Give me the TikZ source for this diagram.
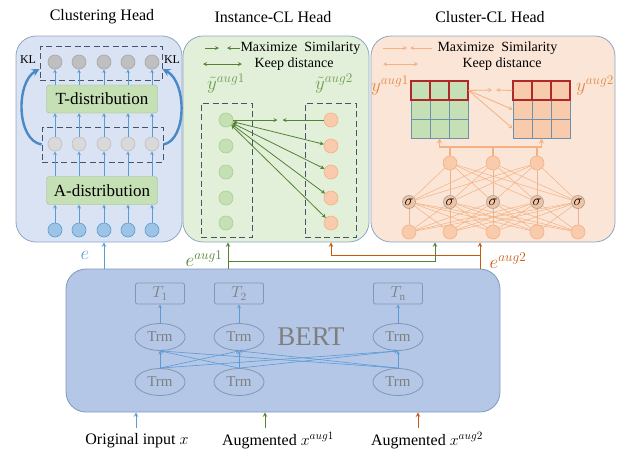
\documentclass[tikz,border=0pt]{standalone}
\usepackage{fix-cm}
\usepackage{fontspec}
\setmainfont{Liberation Serif}
\usetikzlibrary{shapes.geometric}
\definecolor{bluefill}{HTML}{DAE3F3}
\definecolor{greenfill}{HTML}{E2F0D9}
\definecolor{orangefill}{HTML}{FBE5D6}
\definecolor{bertfill}{HTML}{B4C7E7}
\definecolor{panelline}{HTML}{8EA6C6}
\definecolor{bertline}{HTML}{7F98BE}
\definecolor{dashline}{HTML}{44546A}
\definecolor{arrblue}{HTML}{5B9BD5}
\definecolor{klblue}{HTML}{4A89C8}
\definecolor{arrgreen}{HTML}{548235}
\definecolor{ygreen}{HTML}{6E9D53}
\definecolor{arrorange}{HTML}{C55A11}
\definecolor{lightorange}{HTML}{F4B183}
\definecolor{ylab}{HTML}{E08A45}
\definecolor{cellgreen}{HTML}{C5E0B4}
\definecolor{cellorange}{HTML}{F8CBAD}
\definecolor{cellred}{HTML}{B02828}
\definecolor{gridline}{HTML}{6F8FAF}
\definecolor{qfill}{HTML}{BFBFBF}
\definecolor{qline}{HTML}{A5A5A5}
\definecolor{mfill}{HTML}{D9D9D9}
\definecolor{mline}{HTML}{BFBFBF}
\definecolor{bfill}{HTML}{9DC3E6}
\definecolor{distline}{HTML}{9DB88E}
\definecolor{gline}{HTML}{A9D18E}
\definecolor{sigfill}{HTML}{F2C3A3}
\definecolor{sigline}{HTML}{A0A0A0}
\definecolor{trmline}{HTML}{8497B0}
\definecolor{trmgray}{HTML}{7F7F7F}
\begin{document}
\begin{tikzpicture}[x=1pt, y=-1pt, >=stealth,
		title/.style={font=\fontsize{16}{18}\selectfont},
		lgd/.style={font=\fontsize{14}{16}\selectfont},
		lbl/.style={font=\fontsize{16}{18}\selectfont},
		mlbl/.style={font=\fontsize{19}{19}\selectfont},
		panel/.style={draw=panelline, line width=0.8pt, rounded corners=20pt},
		dbox/.style={draw=dashline, line width=0.9pt, dash pattern=on 6pt off 3.5pt},
		dist/.style={draw=distline, fill=cellgreen, rounded corners=3pt, minimum width=111pt, minimum height=28pt, font=\fontsize{17}{19}\selectfont},
		dot/.style={circle, draw, line width=0.6pt, minimum size=14pt, inner sep=0pt},
		sig/.style={circle, draw=sigline, fill=sigfill, line width=0.6pt, minimum size=13pt, inner sep=0pt, font=\fontsize{15}{15}\selectfont},
		trm/.style={ellipse, draw=trmline, line width=0.8pt, minimum width=50pt, minimum height=27pt, inner sep=0pt, text=trmgray, font=\fontsize{15}{15}\selectfont},
		tok/.style={draw=trmline, line width=0.8pt, rounded corners=2pt, minimum width=49pt, minimum height=21pt, inner sep=0pt, text=trmgray, font=\fontsize{16}{16}\selectfont},
		cell/.style={draw=gridline, line width=0.7pt, minimum size=19pt, inner sep=0pt},
		topcell/.style={cell, draw=cellred, line width=1.3pt},
		barr/.style={->, arrblue, line width=0.7pt},
		garr/.style={arrgreen, line width=0.8pt},
		oarr/.style={lightorange, line width=0.8pt},
		net/.style={lightorange, line width=0.5pt},
		joinline/.style={lightorange, line width=1.3pt},
		klarr/.style={->, klblue, line width=2.4pt}]
	\useasboundingbox (0,0) rectangle (618,453);
	% three heads and the encoder
	\node[panel, fill=bluefill, minimum width=166pt, minimum height=206pt] (pclu) at (99,139) {};
	\node[panel, fill=greenfill, minimum width=186pt, minimum height=206pt] (pins) at (276,139) {};
	\node[panel, fill=orangefill, minimum width=244pt, minimum height=206pt] (pclc) at (493,139) {};
	\node[panel, draw=bertline, fill=bertfill, minimum width=434pt, minimum height=143pt] (bert) at (283,340.5) {};
	\node[title] (tclu) at (102,17) {Clustering Head};
	\node[title] (tins) at (273,17) {Instance-CL Head};
	\node[title] (tclc) at (490,17) {Cluster-CL Head};

	% clustering head
	\node[dbox, minimum width=122pt, minimum height=34pt] (qbox) at (101,63) {};
	\node[dbox, minimum width=121pt, minimum height=35pt] (mbox) at (102.5,144.5) {};
	\node[dist] (tdist) at (102,99) {T-distribution};
	\node[dist] (adist) at (102,190.5) {A-distribution};
	\foreach \x [count=\i] in {55,79,104,128,152} {
		\node[dot, draw=qline, fill=qfill] (q\i) at (\x,62) {};
		\node[dot, draw=mline, fill=mfill] (m\i) at (\x,144) {};
		\node[dot, draw=arrblue, fill=bfill] (b\i) at (\x,230) {};
		\draw[barr] (b\i) -- (b\i |- adist.south);
		\draw[barr] (m\i |- adist.north) -- (m\i);
		\draw[barr] (m\i) -- (m\i |- tdist.south);
		\draw[barr] (q\i |- tdist.north) -- (q\i);
	}
	\node[font=\fontsize{12}{12}\selectfont] (kl1) at (28,60) {KL};
	\node[font=\fontsize{12}{12}\selectfont] (kl2) at (172,60) {KL};
	\draw[klarr] (mbox.west) .. controls (16,140) and (16,82) .. ([yshift=-6pt]qbox.west);
	\draw[klarr] (mbox.east) .. controls (187,140) and (187,82) .. ([yshift=-6pt]qbox.east);

	% instance-level contrast
	\node[lgd, anchor=west] (ims) at (237,48) {Maximize\ \ Similarity};
	\draw[->, garr] ([xshift=-32pt]ims.west) -- ([xshift=-18pt]ims.west);
	\draw[->, garr] ([xshift=3pt]ims.west) -- ([xshift=-10pt]ims.west);
	\node[lgd] (ikd) at (294,64) {Keep distance};
	\draw[<->, garr] ([xshift=-91pt]ikd.center) -- ([xshift=-52pt]ikd.center);
	\node[mlbl, text=ygreen] (ya1) at (226,84) {$\tilde{y}^{aug1}$};
	\node[mlbl, text=ygreen] (ya2) at (334,84) {$\tilde{y}^{aug2}$};
	\node[dbox, minimum width=51pt, minimum height=134pt] (gbox) at (226.5,170) {};
	\node[dbox, minimum width=51pt, minimum height=134pt] (obox) at (330.5,170) {};
	\foreach \y [count=\i] in {120,146,172,198,223} {
		\node[dot, draw=gline, fill=cellgreen] (g\i) at (226,\y) {};
		\node[dot, draw=lightorange, fill=cellorange] (o\i) at (331,\y) {};
	}
	\coordinate (gm) at (279.5,120);
	\draw[->, garr] (g1) -- ([xshift=-2pt]gm);
	\draw[->, garr] (o1) -- ([xshift=3pt]gm);
	\foreach \i in {2,...,5}
		\draw[<->, garr] (g1) -- (o\i);

	% cluster-level contrast
	\node[lgd, anchor=west] (cms) at (434,48) {Maximize\ \ Similarity};
	\draw[->, oarr] ([xshift=-51pt]cms.west) -- ([xshift=-27pt]cms.west);
	\draw[->, oarr] ([xshift=-2pt]cms.west) -- ([xshift=-24pt]cms.west);
	\node[lgd] (ckd) at (502,64) {Keep distance};
	\draw[<->, oarr] ([xshift=-119pt]ckd.center) -- ([xshift=-84pt]ckd.center);
	\foreach \r/\y/\s in {3/128.5/cell, 2/109.5/cell, 1/90.5/topcell}
		\foreach \c/\x in {1/420.5, 2/439.5, 3/458.5} {
			\node[\s, fill=cellgreen] (l\r\c) at (\x,\y) {};
			\node[\s, fill=cellorange] (r\r\c) at (\x+102,\y) {};
		}
	\node[mlbl, text=ylab] (yl1) at (390,86) {$y^{aug1}$};
	\node[mlbl, text=ylab] (yl2) at (595,86) {$y^{aug2}$};
	\coordinate (cm) at (494,90);
	\draw[->, oarr] (l13.east) -- ([xshift=-2pt]cm);
	\draw[->, oarr] (r11.west) -- ([xshift=2pt]cm);
	\draw[->, oarr] (l13.east) -- (r21.west);
	\draw[->, oarr] (l13.east) -- (r31.west);
	\foreach \x [count=\i] in {450,493,537}
		\node[dot, draw=lightorange, fill=cellorange] (c\i) at (\x,163) {};
	\foreach \x [count=\i] in {409,450,493,537,578} {
		\node[sig] (s\i) at (\x,202) {$\sigma$};
		\node[dot, draw=lightorange, fill=cellorange] (n\i) at (\x,232) {};
	}
	\foreach \i in {1,...,5} {
		\foreach \j in {1,2,3} \draw[net] (s\i) -- (c\j);
		\foreach \j in {1,...,5} \draw[net] (n\i) -- (s\j);
	}
	\coordinate (jn) at (493,147);
	\foreach \j in {1,2,3}
		\draw[joinline] (c\j) -- (c\j |- jn);
	\draw[->, joinline] (jn) -| (l32.south);
	\draw[->, joinline] (jn) -| (r32.south);

	% BERT encoder
	\node[text=trmgray, font=\fontsize{27}{27}\selectfont] (blbl) at (311,337) {BERT};
	\foreach \x/\t [count=\i] in {160/T_1, 239/T_2, 398/T_{\mathrm{n}}} {
		\node[tok] (t\i) at (\x,293.5) {$\t$};
		\node[trm] (u\i) at (\x,337) {Trm};
		\node[trm] (d\i) at (\x,382) {Trm};
		\draw[barr] (u\i) -- (t\i);
	}
	\foreach \i in {1,2,3}
		\foreach \j in {1,2,3}
			\draw[barr, line width=0.6pt] (d\i.north) -- (u\j.south);

	% embeddings into the heads
	\coordinate (e0) at (104,0);
	\draw[barr, line width=1pt] (e0 |- bert.north) -- (e0 |- pclu.south);
	\node[mlbl, text=arrblue] (el0) at (85,255) {$e$};
	\coordinate (e1) at (228,261);
	\coordinate (k1) at (435,0);
	\draw[->, garr, line width=1pt] (e1 |- bert.north) -- (e1 |- pins.south);
	\draw[->, garr, line width=1pt] (e1) -| (k1 |- pclc.south);
	\node[mlbl, text=arrgreen] (el1) at (204,259) {$e^{aug1}$};
	\coordinate (e2) at (480,255);
	\draw[->, arrorange, line width=1pt] (e2 |- bert.north) -- (e2 |- pclc.south);
	\draw[->, arrorange, line width=1pt] (e2) -| (o5 |- pins.south);
	\node[mlbl, text=arrorange] (el2) at (508,261) {$e^{aug2}$};

	% inputs
	\node[lbl] (in0) at (137,441) {Original input $x$};
	\node[lbl] (in1) at (278,441) {Augmented $x^{aug1}$};
	\node[lbl] (in2) at (427,441) {Augmented $x^{aug2}$};
	\coordinate (x0) at (136,428);
	\coordinate (x1) at (265,428);
	\coordinate (x2) at (418,428);
	\draw[barr, line width=1pt] (x0) -- (x0 |- bert.south);
	\draw[->, garr, line width=1pt] (x1) -- (x1 |- bert.south);
	\draw[->, arrorange, line width=1pt] (x2) -- (x2 |- bert.south);
\end{tikzpicture}
\end{document}
